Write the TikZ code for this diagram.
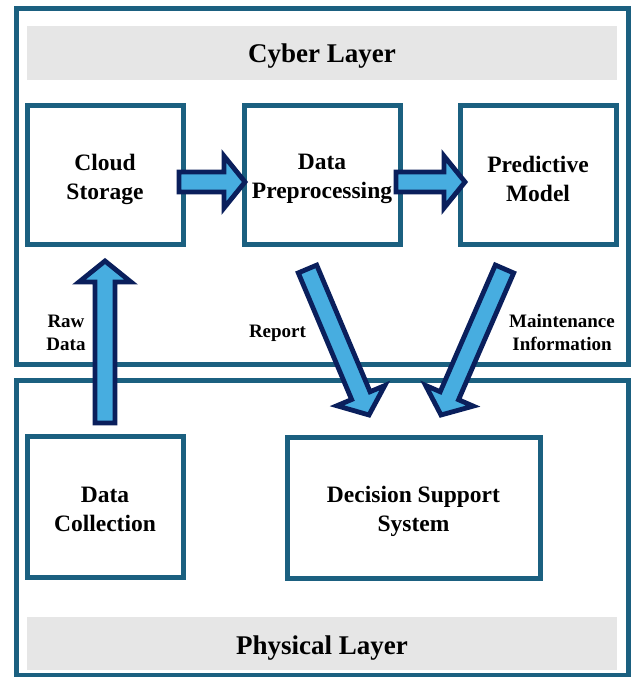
\documentclass[tikz,border=0pt]{standalone}
\usepackage{fontspec}
\setmainfont{Liberation Serif}
\usetikzlibrary{calc}
\definecolor{teal}{RGB}{27,96,128}
\definecolor{band}{RGB}{230,230,230}
\definecolor{navy}{RGB}{10,31,92}
\definecolor{lightblue}{RGB}{71,173,224}
\tikzset{
  layerbox/.style={draw=teal, line width=5pt, minimum width=612pt, inner sep=0pt},
  bandbox/.style={fill=band, minimum width=590pt, inner sep=0pt},
  unitbox/.style={draw=teal, line width=5pt, fill=white, minimum width=156pt, minimum height=139pt, inner sep=0pt},
  unittext/.style={inner sep=0pt, align=center, font=\fontsize{23.5}{29}\selectfont\bfseries},
  titletext/.style={inner sep=0pt, anchor=base, font=\fontsize{27}{32}\selectfont\bfseries},
  smalltext/.style={inner sep=0pt, align=center, font=\fontsize{19}{23}\selectfont\bfseries},
  blockarr/.style={draw=navy, fill=lightblue, line width=4.8pt, line join=miter}
}
\newcommand\blockarrow[2]{%
  \pgfpointdiff{\pgfpointanchor{#1}{center}}{\pgfpointanchor{#2}{center}}%
  \pgfgetlastxy{\bdx}{\bdy}%
  \pgfmathsetmacro\bang{atan2(\bdy,\bdx)}%
  \pgfmathsetmacro\blen{veclen(\bdx,\bdy)}%
  \pgfmathsetmacro\bbase{\blen-21}%
  \begin{scope}[shift={(#1)}, rotate=\bang]
    \draw[blockarr] (0pt,-10pt) -- (\bbase pt,-10pt) -- (\bbase pt,-26pt) -- (\blen pt,0pt) -- (\bbase pt,26pt) -- (\bbase pt,10pt) -- (0pt,10pt) -- cycle;
  \end{scope}}
\begin{document}
\begin{tikzpicture}[x=1pt,y=-1pt]
\useasboundingbox (0,0) rectangle (632,677);
% layers
\node[layerbox, minimum height=355pt] (cyber) at (322,186.5) {};
\node[layerbox, minimum height=295pt] (physical) at (322,527.5) {};
\node[bandbox, minimum height=54pt] (cyberband) at (322,53) {};
\node[bandbox, minimum height=53pt] (physband) at (322,643.5) {};
\node[titletext] (cybertitle) at (322,62.5) {Cyber Layer};
\node[titletext] (phystitle) at (322,654.5) {Physical Layer};
% units
\node[unitbox] (cloud) at (105,174.5) {};
\node[unitbox] (prep) at (322,174.5) {};
\node[unitbox] (pred) at (538,174.5) {};
\node[unitbox, minimum height=141pt] (collect) at (105,506.5) {};
\node[unitbox, minimum width=253pt, minimum height=141pt] (dss) at (413.5,507.5) {};
\node[unittext] (cloudtxt) at ([yshift=-4.5pt]cloud.center) {Cloud\\Storage};
\node[unittext] (preptxt) at ([yshift=-4.5pt]prep.center) {Data\\Preprocessing};
\node[unittext] (predtxt) at ([yshift=-4.5pt]pred.center) {Predictive\\Model};
\node[unittext] (collecttxt) at ([yshift=-3pt]collect.center) {Data\\Collection};
\node[unittext] (dsstxt) at ([yshift=-3.5pt]dss.center) {Decision Support\\System};
% labels
\node[smalltext] (rawlbl) at (66,333) {Raw\\Data};
\node[smalltext] (replbl) at (277.5,333.5) {Report};
\node[smalltext] (mntlbl) at (562,332) {Maintenance\\Information};
% arrow end points
\coordinate (a1s) at (179,182);
\coordinate (a1e) at (245,182);
\coordinate (a2s) at (396,182);
\coordinate (a2e) at (465,182);
\coordinate (a3s) at (105,423);
\coordinate (a3e) at (105,261);
\coordinate (a4s) at (307.5,269);
\coordinate (a4e) at (369,415);
\coordinate (a5s) at (504.5,269);
\coordinate (a5e) at (441,415);
\blockarrow{a1s}{a1e}
\blockarrow{a2s}{a2e}
\blockarrow{a3s}{a3e}
\blockarrow{a4s}{a4e}
\blockarrow{a5s}{a5e}
\end{tikzpicture}
\end{document}
